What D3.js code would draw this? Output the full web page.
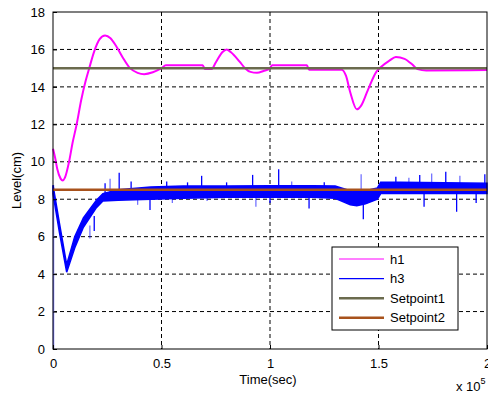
<!DOCTYPE html>
<html>
<head>
<meta charset="utf-8">
<script src="https://cdnjs.cloudflare.com/ajax/libs/d3/7.8.5/d3.min.js"></script>
<style>
  body { margin: 0; background: #fff; }
  svg { display: block; font-family: "Liberation Sans", Arial, sans-serif; }
</style>
</head>
<body>
<svg id="chart" width="488" height="396"></svg>
<script>
// values, time in seconds
var h1Time  = [0, 1000, 2000, 3500, 4500, 5500, 7400, 9000, 10900, 13000, 15000, 16700, 19000, 21500, 24000, 26500, 29000, 32000, 35500, 39000, 42000, 46000, 50000, 52000, 69000, 70000, 73000, 75000, 78000, 80000, 82000, 86000, 88500, 91000, 94000, 97000, 100000, 101000, 117000, 118000, 133000, 135000, 137000, 140000, 142000, 145000, 149000, 151000, 155000, 158000, 162000, 166000, 168000, 172000, 200000];
var h1Value = [10.7, 10.2, 9.6, 9.1, 9.0, 9.15, 10.0, 11.0, 12.0, 13.3, 14.3, 15.0, 15.9, 16.55, 16.75, 16.6, 16.2, 15.6, 15.0, 14.75, 14.68, 14.78, 15.0, 15.15, 15.15, 14.95, 14.95, 15.3, 15.85, 16.0, 15.85, 15.35, 15.0, 14.8, 14.75, 14.85, 15.0, 15.15, 15.15, 14.92, 14.92, 14.6, 13.7, 12.8, 13.0, 13.8, 14.8, 15.05, 15.4, 15.6, 15.5, 15.15, 14.95, 14.88, 14.9];

// h3 is a noisy band: upper / lower edge of the band
var h3Time  = [0, 3000, 6300, 10000, 14000, 20000, 23000, 30000, 45000, 60000, 80000, 100000, 120000, 130000, 137000, 140000, 144000, 149500, 151000, 160000, 200000];
var h3Upper = [8.75, 6.7, 4.5, 6.0, 7.0, 7.95, 8.3, 8.5, 8.65, 8.7, 8.7, 8.72, 8.72, 8.7, 8.45, 8.4, 8.45, 8.6, 8.9, 8.9, 8.85];
var h3Lower = [8.3, 6.2, 4.1, 5.4, 6.5, 7.55, 7.9, 7.95, 8.0, 8.05, 8.1, 8.1, 8.1, 8.05, 7.7, 7.65, 7.75, 8.0, 8.3, 8.3, 8.3];

// single spikes of h3
var spikeTime = [17000, 19000, 24000, 26300, 30500, 36000, 39000, 44700, 52400, 55000, 62000, 68500, 71000, 80000, 92000, 93500, 100000, 104000, 110000, 118000, 125000, 142000, 143000, 158000, 164000, 169000, 171000, 174500, 181000, 186000, 187500, 195000, 199000];
var spikeLow  = [5.9, 6.3, 8.0, 8.0, 8.1, 8.5, 7.7, 7.43, 8.4, 7.8, 8.4, 8.4, 7.9, 8.5, 8.4, 7.6, 7.8, 8.4, 8.5, 7.5, 8.5, 8.2, 6.93, 8.8, 8.8, 8.6, 7.6, 8.6, 8.6, 7.33, 8.6, 7.8, 8.6];
var spikeHigh = [6.6, 7.1, 8.85, 9.1, 9.42, 8.95, 8.2, 8.2, 8.95, 8.2, 8.9, 9.25, 8.3, 8.9, 9.3, 8.2, 8.2, 9.6, 8.95, 8.2, 8.9, 9.33, 7.8, 9.2, 9.15, 9.3, 8.4, 9.38, 9.47, 8.4, 9.25, 8.3, 9.33];

var setpoint1 = 15;
var setpoint2 = 8.5;

var xTicks = [0, 50000, 100000, 150000, 200000];
var xTickLabels = ["0", "0.5", "1", "1.5", "2"];
var yTicks = [0, 2, 4, 6, 8, 10, 12, 14, 16, 18];

var legendNames  = ["h1", "h3", "Setpoint1", "Setpoint2"];
var legendColors = ["#ff00ff", "#0000ff", "#6b6b4e", "#a8521c"];

var svg = d3.select("#chart");

var mLeft = 53, mRight = 487, mTop = 12, mBottom = 349;

var x = d3.scaleLinear().domain([0, 200000]).range([mLeft, mRight]);
var y = d3.scaleLinear().domain([0, 18]).range([mBottom, mTop]);

var plot = svg.append("g");

// grid lines, dashed
plot.selectAll(".gx")
  .data(xTicks.slice(1, -1))
  .enter().append("line")
    .attr("x1", function(d) { return x(d); })
    .attr("x2", function(d) { return x(d); })
    .attr("y1", mTop).attr("y2", mBottom)
    .attr("stroke", "#000").attr("stroke-width", 1)
    .attr("stroke-dasharray", "4,3");

plot.selectAll(".gy")
  .data(yTicks.slice(1, -1))
  .enter().append("line")
    .attr("x1", mLeft).attr("x2", mRight)
    .attr("y1", function(d) { return y(d); })
    .attr("y2", function(d) { return y(d); })
    .attr("stroke", "#000").attr("stroke-width", 1)
    .attr("stroke-dasharray", "4,3");

// h1
var h1Line = d3.line()
  .curve(d3.curveMonotoneX)
  .x(function(d, i) { return x(h1Time[i]); })
  .y(function(d) { return y(d); });

plot.append("path")
  .attr("d", h1Line(h1Value))
  .attr("fill", "none")
  .attr("stroke", legendColors[0])
  .attr("stroke-width", 2);

// h3 starts at 0 before jumping up
plot.append("line")
  .attr("x1", x(0) + 0.5).attr("x2", x(0) + 0.5)
  .attr("y1", y(0)).attr("y2", y(h3Upper[0]))
  .attr("stroke", "#7f7fff").attr("stroke-width", 1.5);

var h3Area = d3.area()
  .x(function(d, i) { return x(h3Time[i]); })
  .y0(function(d, i) { return y(h3Lower[i]); })
  .y1(function(d) { return y(d); });

plot.append("path")
  .attr("d", h3Area(h3Upper))
  .attr("fill", legendColors[1])
  .attr("stroke", legendColors[1])
  .attr("stroke-width", 1.5);

plot.selectAll(".spike")
  .data(spikeTime)
  .enter().append("line")
    .attr("x1", function(d) { return x(d); })
    .attr("x2", function(d) { return x(d); })
    .attr("y1", function(d, i) { return y(spikeLow[i]); })
    .attr("y2", function(d, i) { return y(spikeHigh[i]); })
    .attr("stroke", legendColors[1])
    .attr("stroke-opacity", function(d, i) { return i % 3 == 0 ? 0.55 : 1; })
    .attr("stroke-width", 1.3);

// setpoints on top
[setpoint1, setpoint2].forEach(function(s, i) {
  plot.append("line")
    .attr("x1", x(0)).attr("x2", x(200000))
    .attr("y1", y(s)).attr("y2", y(s))
    .attr("stroke", legendColors[i + 2])
    .attr("stroke-width", 2.5);
});

// box
plot.append("rect")
  .attr("x", mLeft).attr("y", mTop)
  .attr("width", mRight - mLeft).attr("height", mBottom - mTop)
  .attr("fill", "none").attr("stroke", "#000").attr("stroke-width", 1);

// axes with inward ticks
var xAxis = d3.axisBottom(x).tickValues(xTicks)
  .tickFormat(function(d, i) { return xTickLabels[i]; })
  .tickSizeInner(-4).tickSizeOuter(0).tickPadding(10);
var gx = svg.append("g").attr("transform", "translate(0," + mBottom + ")").call(xAxis);
gx.select(".domain").remove();
gx.selectAll("text").attr("font-size", 13).attr("fill", "#000").attr("font-family", "Liberation Sans, Arial, sans-serif");

var yAxis = d3.axisLeft(y).tickValues(yTicks)
  .tickSizeInner(-4).tickSizeOuter(0).tickPadding(8);
var gy = svg.append("g").attr("transform", "translate(" + mLeft + ",0)").call(yAxis);
gy.select(".domain").remove();
gy.selectAll("text").attr("font-size", 13).attr("fill", "#000").attr("font-family", "Liberation Sans, Arial, sans-serif");

// labels
svg.append("text")
  .attr("x", 268).attr("y", 384)
  .attr("text-anchor", "middle").attr("font-size", 13)
  .text("Time(sec)");

svg.append("text")
  .attr("transform", "translate(21," + ((mTop + mBottom) / 2) + ") rotate(-90)")
  .attr("text-anchor", "middle").attr("font-size", 13)
  .text("Level(cm)");

var mult = svg.append("text")
  .attr("x", 456).attr("y", 391).attr("font-size", 13);
mult.append("tspan").text("x 10");
mult.append("tspan").attr("dy", -7).attr("font-size", 9).text("5");

// legend
var lg = svg.append("g").attr("transform", "translate(332,247)");
lg.append("rect")
  .attr("width", 126).attr("height", 83)
  .attr("fill", "#fff").attr("stroke", "#000").attr("stroke-width", 1);

var items = lg.selectAll(".item")
  .data(legendNames)
  .enter().append("g")
    .attr("transform", function(d, i) { return "translate(0," + (12 + i * 19.6) + ")"; });

items.append("line")
  .attr("x1", 7).attr("x2", 52)
  .attr("stroke", function(d, i) { return legendColors[i]; })
  .attr("stroke-width", function(d, i) { return i < 2 ? 1.2 : 2.5; });

items.append("text")
  .attr("x", 58).attr("y", 4.5)
  .attr("font-size", 13)
  .text(function(d) { return d; });
</script>
</body>
</html>
